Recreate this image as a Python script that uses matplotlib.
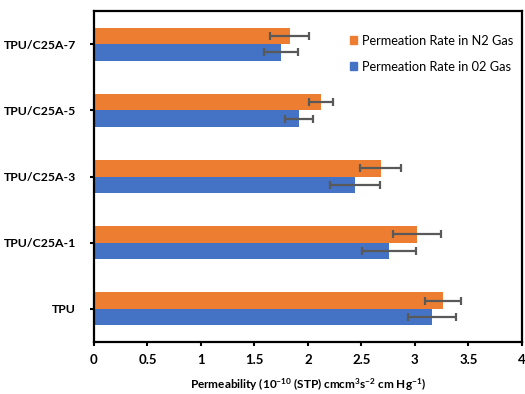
import matplotlib.pyplot as plt
import numpy as np
from matplotlib.patches import Patch

plt.rcParams['font.family'] = ['Lato', 'DejaVu Sans']
plt.rcParams['mathtext.default'] = 'regular'

samples = ['TPU', 'TPU/C25A-1', 'TPU/C25A-3', 'TPU/C25A-5', 'TPU/C25A-7']
n2_rate = [3.26, 3.02, 2.68, 2.12, 1.83]
n2_err = [0.17, 0.22, 0.19, 0.11, 0.18]
o2_rate = [3.16, 2.76, 2.44, 1.92, 1.75]
o2_err = [0.22, 0.25, 0.23, 0.13, 0.16]

orange = '#ED7D31'
blue = '#4472C4'
bar_h = 0.25
y = np.arange(len(samples))

fig = plt.figure(figsize=(5.25, 3.94), dpi=100)
ax = fig.add_axes([0.179, 0.132, 0.815, 0.840])

err_style = dict(ecolor='#595959', elinewidth=1.6, capsize=3, capthick=1.6)
ax.barh(y + bar_h / 2, n2_rate, height=bar_h, color=orange, xerr=n2_err, error_kw=err_style)
ax.barh(y - bar_h / 2, o2_rate, height=bar_h, color=blue, xerr=o2_err, error_kw=err_style)

ax.set_xlim(0, 4)
ax.set_ylim(-0.5, 4.5)
ax.set_xticks(np.arange(0, 4.01, 0.5))
ax.set_xticklabels(['0', '0.5', '1', '1.5', '2', '2.5', '3', '3.5', '4'], fontweight='bold')
ax.set_yticks(y)
ax.set_yticklabels(samples, fontweight='bold')
ax.tick_params(axis='both', labelsize=9.5, length=3, width=1.5, color='black')
ax.tick_params(axis='y', labelsize=8.8, pad=10)
ax.tick_params(axis='x', pad=6)
for s in ax.spines.values():
    s.set_linewidth(1.6)
    s.set_color('black')

ax.set_xlabel('Permeability (10$^{-10}$ (STP) cmcm$^{3}$s$^{-2}$ cm Hg$^{-1}$)',
              fontsize=8.5, fontweight='bold', labelpad=7)

handles = [Patch(color=orange, label='Permeation Rate in N2 Gas'),
           Patch(color=blue, label='Permeation Rate in 02 Gas')]
ax.legend(handles=handles, loc='upper right', bbox_to_anchor=(1.0, 0.955), frameon=False,
          handlelength=0.6, handleheight=0.6, handletextpad=0.35, labelspacing=1.1,
          fontsize=9.2, borderaxespad=0.3)

plt.savefig('out.png', dpi=100)
